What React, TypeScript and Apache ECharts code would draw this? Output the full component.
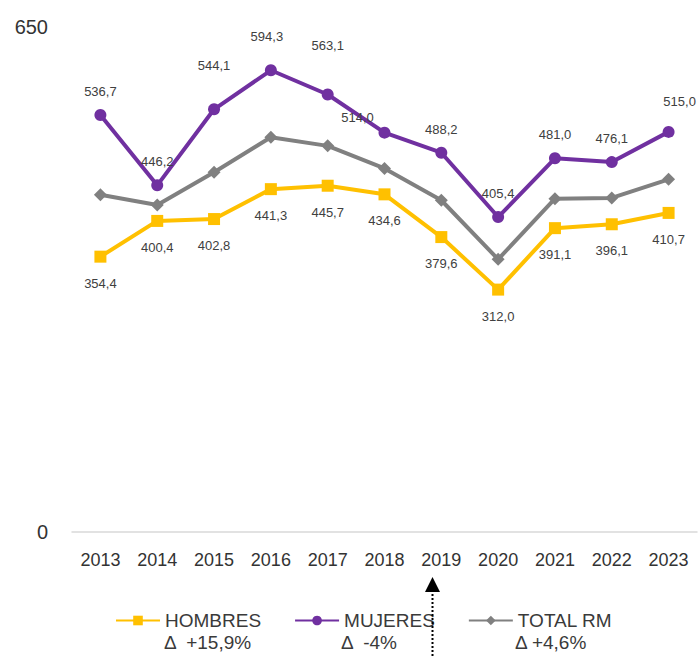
import React, { useEffect, useRef } from "react";
import * as echarts from "echarts";

const YEARS = ["2013", "2014", "2015", "2016", "2017", "2018", "2019", "2020", "2021", "2022", "2023"];
const HOMBRES = [354.4, 400.4, 402.8, 441.3, 445.7, 434.6, 379.6, 312.0, 391.1, 396.1, 410.7];
const MUJERES = [536.7, 446.2, 544.1, 594.3, 563.1, 514.0, 488.2, 405.4, 481.0, 476.1, 515.0];
const TOTAL_RM = [434, 421, 463, 508, 497, 468, 427, 351, 429, 430, 454];
const Y_TICKS = [0, 650];
const SERIES_NAMES = ["HOMBRES", "MUJERES", "TOTAL RM"];
const DELTAS = ["Δ  +15,9%", "Δ  -4%", "Δ +4,6%"];

// label nudges (style only) for the women's series labels: [dx, dy]
const MUJERES_LABEL_NUDGE: [number, number][] = [
  [0, 0], [0, 0], [0, -20], [-4, -10], [0, -26], [-27, 8], [0, 0], [0, 0], [0, 0], [0, 0], [11, -7],
];

const FONT = "'Liberation Sans', Arial, sans-serif";
const fmt = (v: number) => v.toFixed(1).replace(".", ",");

export default function App() {
  const ref = useRef<HTMLDivElement>(null);
  useEffect(() => {
    document.body.style.margin = "0";
    if (!ref.current) return;
    const chart = echarts.init(ref.current, null, { renderer: "svg" });
    const labelStyle = { color: "#404040", fontSize: 13, fontFamily: FONT };
    chart.setOption({
      animation: false,
      textStyle: { fontFamily: FONT },
      grid: { left: 72, right: 2, top: 27, bottom: 124 },
      legend: {
        left: 110,
        top: 606,
        itemWidth: 44,
        itemHeight: 12,
        itemGap: 33,
        textStyle: { color: "#3a3a3a", fontSize: 19, fontFamily: FONT },
        data: SERIES_NAMES,
      },
      xAxis: {
        type: "category",
        data: YEARS,
        boundaryGap: true,
        axisLine: { show: true, lineStyle: { color: "#d9d9d9", width: 1.5 } },
        axisTick: { show: false },
        axisLabel: { color: "#333333", fontSize: 18, margin: 19, fontFamily: FONT },
      },
      yAxis: {
        type: "value",
        min: Y_TICKS[0],
        max: Y_TICKS[1],
        interval: Y_TICKS[1] - Y_TICKS[0],
        splitLine: { show: false },
        axisLine: { show: false },
        axisTick: { show: false },
        axisLabel: { color: "#333333", fontSize: 20, margin: 24, fontFamily: FONT },
      },
      series: [
        {
          name: SERIES_NAMES[0],
          type: "line",
          data: HOMBRES,
          symbol: "rect",
          symbolSize: 12,
          lineStyle: { width: 4, color: "#FFC000" },
          itemStyle: { color: "#FFC000" },
          label: {
            show: true,
            position: "bottom",
            distance: 14,
            formatter: (p: any) => fmt(p.value),
            ...labelStyle,
          },
          z: 3,
        },
        {
          name: SERIES_NAMES[1],
          type: "line",
          data: MUJERES.map((v, i) => ({
            value: v,
            label: { offset: MUJERES_LABEL_NUDGE[i] },
          })),
          symbol: "circle",
          symbolSize: 12,
          lineStyle: { width: 4, color: "#7030A0" },
          itemStyle: { color: "#7030A0" },
          label: {
            show: true,
            position: "top",
            distance: 11,
            formatter: (p: any) => fmt(p.value),
            ...labelStyle,
          },
          z: 4,
        },
        {
          name: SERIES_NAMES[2],
          type: "line",
          data: TOTAL_RM,
          symbol: "diamond",
          symbolSize: 13,
          lineStyle: { width: 4, color: "#808080" },
          itemStyle: { color: "#808080" },
          label: { show: false },
          z: 2,
        },
      ],
      graphic: [
        {
          type: "text",
          left: 164,
          top: 633,
          style: { text: DELTAS[0], fill: "#3a3a3a", fontSize: 19, fontFamily: FONT },
        },
        {
          type: "text",
          left: 341,
          top: 633,
          style: { text: DELTAS[1], fill: "#3a3a3a", fontSize: 19, fontFamily: FONT },
        },
        {
          type: "text",
          left: 515,
          top: 633,
          style: { text: DELTAS[2], fill: "#3a3a3a", fontSize: 19, fontFamily: FONT },
        },
        {
          type: "line",
          shape: { x1: 432.5, y1: 590, x2: 432.5, y2: 656 },
          style: { stroke: "#000", lineWidth: 2, lineDash: [2, 2] },
          z: 10,
        },
        {
          type: "polygon",
          shape: { points: [[432.5, 577], [425, 592], [440, 592]] },
          style: { fill: "#000" },
          z: 10,
        },
      ],
    });
    return () => chart.dispose();
  }, []);
  return <div ref={ref} style={{ width: 699, height: 656 }} />;
}
